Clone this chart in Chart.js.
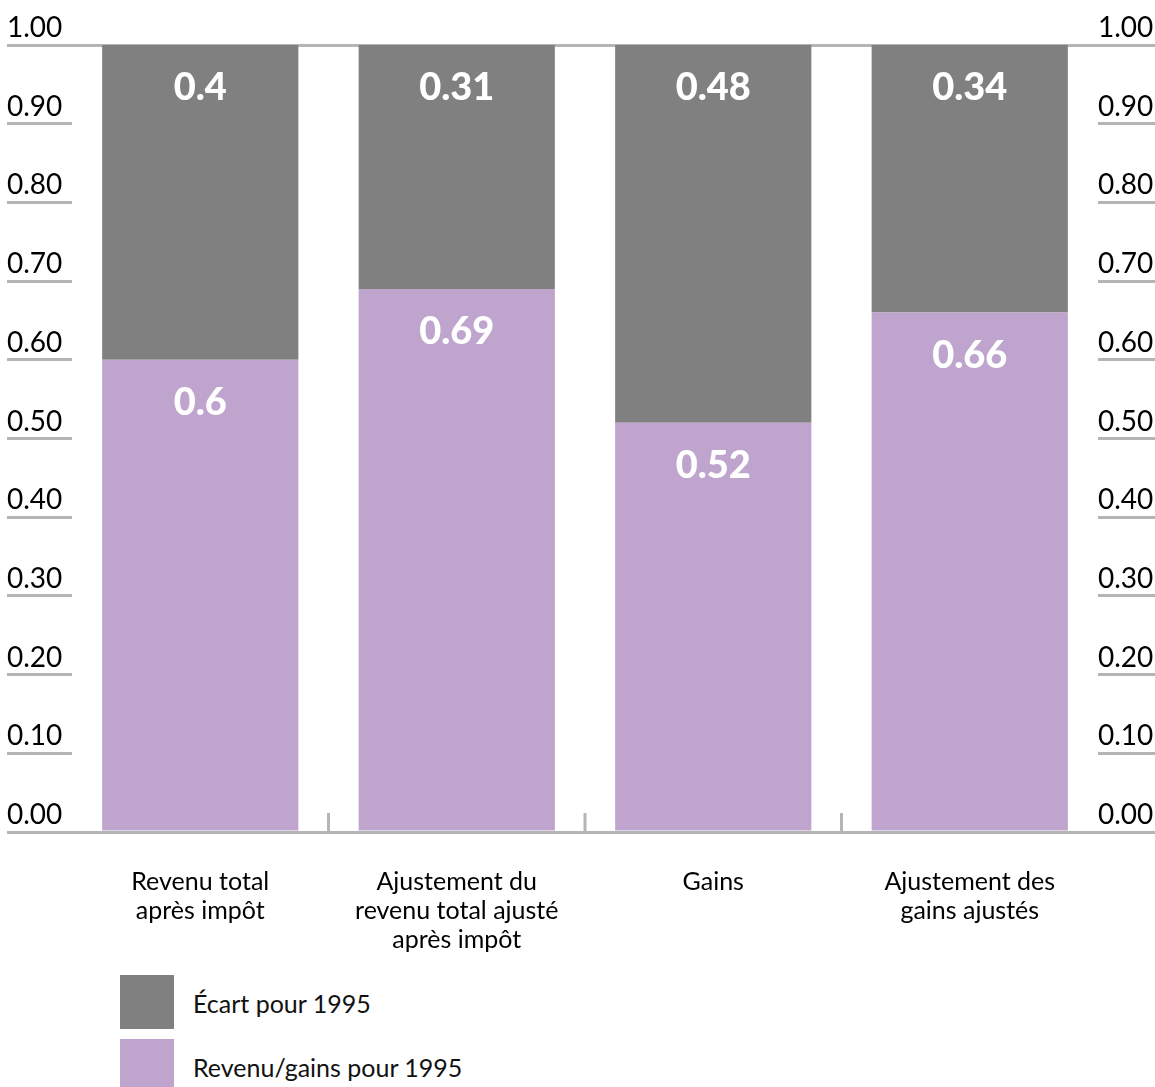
<!DOCTYPE html>
<html lang="fr">
<head>
<meta charset="UTF-8">
<title>Revenu et gains, 1995</title>
<script src="https://cdn.jsdelivr.net/npm/chart.js"></script>
<style>
  html, body { margin: 0; padding: 0; background: #fff; overflow: hidden; }
  body { width: 1155px; height: 1087px; position: relative; font-family: Lato, "Open Sans", sans-serif; }
  #wrap { position: absolute; left: 0; top: 0; width: 1155px; height: 970px; }
  .key { position: absolute; left: 120px; width: 54px; height: 54px; }
  .key-label { position: absolute; left: 193px; font-size: 25px; color: #111; line-height: 30px; }
</style>
</head>
<body>
<div id="wrap"><canvas id="chart" width="1155" height="970"></canvas></div>
<div id="legend"></div>

<script>
// categories (multi-line labels)
const categories = [
  ['Revenu total', 'après impôt'],
  ['Ajustement du', 'revenu total ajusté', 'après impôt'],
  ['Gains'],
  ['Ajustement des', 'gains ajustés']
];
const revenuGains = [0.6, 0.69, 0.52, 0.66];
const ecart = [0.4, 0.31, 0.48, 0.34];
const seriesNames = ['Revenu/gains pour 1995', 'Écart pour 1995'];
const seriesColors = ['#bfa5ce', '#808080'];

const lineGray = '#b5b5b5';
const fontFamily = 'Lato, "Open Sans", sans-serif';

// heavy white value inside each bar segment
const valueLabels = {
  id: 'valueLabels',
  afterDatasetsDraw(chart) {
    const ctx = chart.ctx;
    ctx.save();
    ctx.fillStyle = '#fff';
    ctx.font = '900 38px ' + fontFamily;
    ctx.textAlign = 'center';
    ctx.textBaseline = 'middle';
    chart.data.datasets.forEach((ds, di) => {
      chart.getDatasetMeta(di).data.forEach((bar, i) => {
        const top = Math.min(bar.y, bar.base);
        ctx.fillText(String(ds.data[i]), bar.x, top + 43);
      });
    });
    ctx.restore();
  }
};

// short marks between categories on the baseline
const categoryMarks = {
  id: 'categoryMarks',
  beforeDatasetsDraw(chart) {
    const x = chart.scales.x;
    const bottom = chart.chartArea.bottom;
    const ctx = chart.ctx;
    ctx.save();
    ctx.strokeStyle = lineGray;
    ctx.lineWidth = 3;
    for (let i = 1; i < categories.length; i++) {
      const px = (x.getPixelForValue(i - 1) + x.getPixelForValue(i)) / 2;
      ctx.beginPath();
      ctx.moveTo(px, bottom - 19);
      ctx.lineTo(px, bottom);
      ctx.stroke();
    }
    ctx.restore();
  }
};

const yTicks = {
  min: 0, max: 1,
  ticks: { stepSize: 0.1, color: '#000', font: { family: fontFamily, size: 28 }, labelOffset: -17,
           callback: v => v.toFixed(2) }
};

new Chart(document.getElementById('chart'), {
  type: 'bar',
  data: {
    labels: categories,
    datasets: [
      { label: seriesNames[0], data: revenuGains, backgroundColor: seriesColors[0] },
      { label: seriesNames[1], data: ecart, backgroundColor: seriesColors[1] }
    ]
  },
  options: {
    responsive: false,
    animation: false,
    layout: { padding: { left: 7, right: 0, top: 45, bottom: 8 } },
    datasets: { bar: { barPercentage: 0.765, categoryPercentage: 1 } },
    plugins: { legend: { display: false }, tooltip: { enabled: false } },
    scales: {
      x: {
        stacked: true,
        border: { display: false },
        grid: { display: false },
        ticks: { color: '#000', font: { family: fontFamily, size: 25, lineHeight: 1.16 }, padding: 27, maxRotation: 0 },
        afterFit: s => { s.height = 130; }
      },
      y: {
        stacked: true,
        position: 'left',
        min: yTicks.min, max: yTicks.max,
        border: { display: false },
        grid: {
          lineWidth: 3,
          tickLength: 65,
          tickColor: lineGray,
          color: c => (c.tick && (c.tick.value === 0 || c.tick.value === 1)) ? lineGray : 'rgba(0,0,0,0)'
        },
        ticks: Object.assign({}, yTicks.ticks, { crossAlign: 'far', padding: 0 }),
        afterFit: s => { s.width = 65; }
      },
      y2: {
        position: 'right',
        min: yTicks.min, max: yTicks.max,
        border: { display: false },
        grid: { drawOnChartArea: false, lineWidth: 3, tickLength: 57, tickColor: lineGray },
        ticks: Object.assign({}, yTicks.ticks, { crossAlign: 'near', padding: -57 }),
        afterFit: s => { s.width = 57; }
      }
    }
  },
  plugins: [categoryMarks, valueLabels]
});

// legend: top segment first
const legend = document.getElementById('legend');
[1, 0].forEach((si, row) => {
  const top = 975 + row * 64;
  const sw = document.createElement('div');
  sw.className = 'key';
  sw.style.top = top + 'px';
  sw.style.background = seriesColors[si];
  const tx = document.createElement('div');
  tx.className = 'key-label';
  tx.style.top = (top + 13) + 'px';
  tx.textContent = seriesNames[si];
  legend.appendChild(sw);
  legend.appendChild(tx);
});
</script>
</body>
</html>
